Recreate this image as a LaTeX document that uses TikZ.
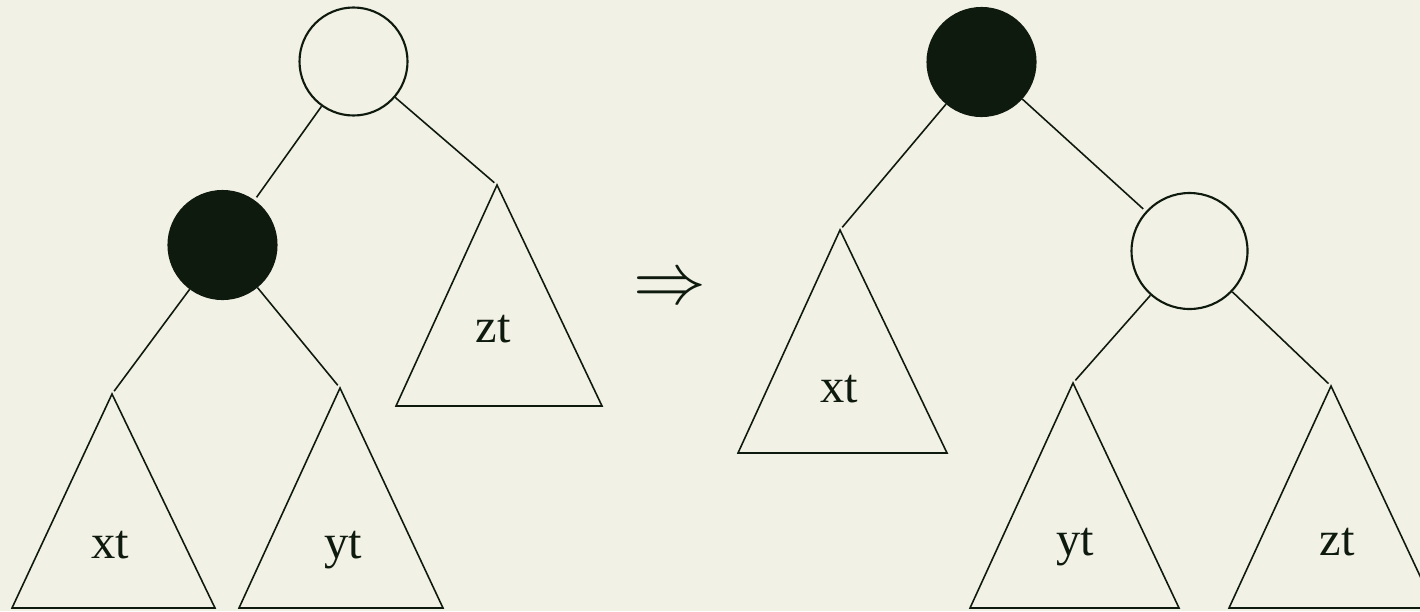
\documentclass[tikz,border=0pt]{standalone}
\usepackage{fontspec}
\setmainfont{Liberation Serif}
\usetikzlibrary{positioning}
\definecolor{paper}{HTML}{F2F1E6}
\definecolor{ink}{HTML}{0F1A0F}
\tikzset{
  plain/.style={circle, draw=ink, line width=0.6pt, inner sep=0pt, minimum size=10.8mm},
  filled/.style={plain, fill=ink},
  edge/.style={draw=ink, line width=0.45pt, shorten >=1pt},
  subtree/.style={draw=ink, line width=0.45pt, line join=miter},
  tlabel/.style={anchor=base, text=ink, font=\fontsize{13.8}{16}\selectfont}
}
\begin{document}
\begin{tikzpicture}[x=0.1mm, y=-0.1mm]
    \fill[paper] (0,0) rectangle (1420,611);
    \useasboundingbox (0,0) rectangle (1420,611);

    % before the rotation
    \node[plain] (rootL) at (353.5,61.5) {};
    \node[filled] (redL) at (222.5,245) {};
    \coordinate (xA1) at (112,394);
    \coordinate (yA1) at (340,388);
    \coordinate (zA1) at (497,185);

    \draw[edge] (rootL) -- (redL);
    \draw[edge] (rootL) -- (zA1);
    \draw[edge] (redL) -- (xA1);
    \draw[edge] (redL) -- (yA1);

    \draw[subtree] (xA1) -- ++(-100,214) -- ++(203,0) -- cycle;
    \draw[subtree] (yA1) -- ++(-101,220) -- ++(204,0) -- cycle;
    \draw[subtree] (zA1) -- ++(-101,221) -- ++(206,0) -- cycle;

    \node[tlabel] (xt1) at (110,558) {xt};
    \node[tlabel] (yt1) at (343,558) {yt};
    \node[tlabel] (zt1) at (493,342) {zt};

    \node[text=ink, font=\fontsize{21.5}{24}\selectfont] (arrow) at (670,290) {$\Rightarrow$};

    % after the rotation
    \node[filled] (rootR) at (981.5,62) {};
    \node[plain, minimum size=11.6mm] (redR) at (1189.5,251) {};
    \coordinate (xA2) at (840,230);
    \coordinate (yA2) at (1073,383);
    \coordinate (zA2) at (1331,386);

    \draw[edge] (rootR) -- (xA2);
    \draw[edge] (rootR) -- (redR);
    \draw[edge] (redR) -- (yA2);
    \draw[edge] (redR) -- (zA2);

    \draw[subtree] (xA2) -- ++(-102,223) -- ++(209,0) -- cycle;
    \draw[subtree] (yA2) -- ++(-103,225) -- ++(209,0) -- cycle;
    \draw[subtree] (zA2) -- ++(-102,222) -- ++(206,0) -- cycle;

    \node[tlabel] (xt2) at (839,402) {xt};
    \node[tlabel] (yt2) at (1075,555) {yt};
    \node[tlabel] (zt2) at (1337,555) {zt};
\end{tikzpicture}
\end{document}
